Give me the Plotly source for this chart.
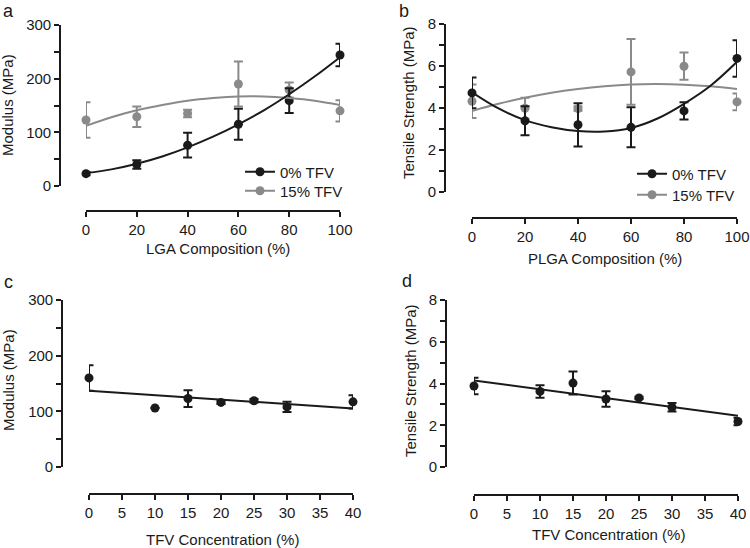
import plotly.graph_objects as go

# ---- data ----
# a / b : composition series (0 % and 15 % TFV)
comp_x = [0, 20, 40, 60, 80, 100]
fit_x = [0, 10, 20, 30, 40, 50, 60, 70, 80, 90, 100]

mod_0 = [23, 40, 76, 115, 159, 244]
mod_0_err = [3, 8, 23, 29, 23, 21]
mod_15 = [123, 129, 135, 190, 179, 140]
mod_15_err = [33, 19, 7, 42, 14, 20]
mod_0_fit = [24, 31, 41.5, 55, 72, 92, 115, 141, 171, 204, 240]
mod_15_fit = [112, 128, 141, 151, 159, 164, 167, 167, 164, 159, 151]

ts_0 = [4.72, 3.39, 3.20, 3.08, 3.86, 6.36]
ts_0_err = [0.73, 0.69, 1.03, 0.95, 0.41, 0.87]
ts_15 = [4.32, 3.99, 3.97, 5.72, 5.99, 4.29]
ts_15_err = [0.80, 0.50, 0.10, 1.57, 0.65, 0.40]
ts_0_fit = [4.75, 3.98, 3.42, 3.08, 2.90, 2.88, 3.05, 3.50, 4.20, 5.06, 6.20]
ts_15_fit = [3.86, 4.20, 4.49, 4.73, 4.91, 5.04, 5.12, 5.14, 5.11, 5.03, 4.90]

# c / d : TFV concentration series
tfv_x = [0, 10, 15, 20, 25, 30, 40]
tfv_fit_x = [0, 40]
tfv_mod = [160, 106, 123, 116, 119, 108, 117]
tfv_mod_err = [23, 0, 15, 3, 3, 9, 12]
tfv_mod_fit = [137, 105]
tfv_ts = [3.88, 3.62, 4.02, 3.26, 3.31, 2.86, 2.18]
tfv_ts_err = [0.40, 0.30, 0.55, 0.37, 0.05, 0.20, 0.18]
tfv_ts_fit = [4.15, 2.46]

BLACK = "#1a1a1a"
GRAY = "#8a8a8a"
FONT = "Liberation Sans"
W, H = 750, 548


def px_x(p):
    return p / W


def px_y(p):
    return 1 - p / H


fig = go.Figure()


def points(x, y, err, color, xa, ya):
    fig.add_trace(go.Scatter(
        x=x, y=y, mode="markers", xaxis=xa, yaxis=ya, showlegend=False,
        marker=dict(color=color, size=9),
        error_y=dict(type="data", array=err, color=color, thickness=2, width=4.5),
        cliponaxis=False,
    ))


def curve(x, y, color, xa, ya, spline=True):
    fig.add_trace(go.Scatter(
        x=x, y=y, mode="lines", xaxis=xa, yaxis=ya, showlegend=False,
        line=dict(color=color, width=2, shape="spline" if spline else "linear"),
        cliponaxis=False,
    ))


def key(name, color, legend):
    # legend-only entry (line + dot), like the original key
    fig.add_trace(go.Scatter(
        x=[None], y=[None], mode="lines+markers", name=name, legend=legend,
        marker=dict(color=color, size=9), line=dict(color=color, width=2),
    ))


# panel a
points(comp_x, mod_15, mod_15_err, GRAY, "x", "y")
points(comp_x, mod_0, mod_0_err, BLACK, "x", "y")
curve(fit_x, mod_15_fit, GRAY, "x", "y")
curve(fit_x, mod_0_fit, BLACK, "x", "y")
key("0% TFV", BLACK, "legend")
key("15% TFV", GRAY, "legend2")

# panel b
points(comp_x, ts_15, ts_15_err, GRAY, "x2", "y2")
points(comp_x, ts_0, ts_0_err, BLACK, "x2", "y2")
curve(fit_x, ts_15_fit, GRAY, "x2", "y2")
curve(fit_x, ts_0_fit, BLACK, "x2", "y2")
key("0% TFV", BLACK, "legend3")
key("15% TFV", GRAY, "legend4")

# panel c
points(tfv_x, tfv_mod, tfv_mod_err, BLACK, "x3", "y3")
curve(tfv_fit_x, tfv_mod_fit, BLACK, "x3", "y3", spline=False)

# panel d
points(tfv_x, tfv_ts, tfv_ts_err, BLACK, "x4", "y4")
curve(tfv_fit_x, tfv_ts_fit, BLACK, "x4", "y4", spline=False)

tickfont = dict(family=FONT, size=15, color=BLACK)


def xaxis(dom, pos, rng, dtick):
    return dict(
        domain=[px_x(dom[0]), px_x(dom[1])], anchor="free", position=px_y(pos),
        range=rng, dtick=dtick, tick0=0, showgrid=False, zeroline=False,
        showline=True, linecolor=BLACK, linewidth=1.6, automargin=False,
        ticks="outside", ticklen=5, tickwidth=1.6, tickcolor=BLACK,
        tickfont=tickfont, fixedrange=True,
    )


def yaxis(dom, pos, rng, dtick):
    return dict(
        domain=[px_y(dom[1]), px_y(dom[0])], anchor="free", position=px_x(pos),
        range=rng, dtick=dtick, tick0=0, showgrid=False, zeroline=False,
        showline=True, linecolor=BLACK, linewidth=1.6, automargin=False,
        ticks="outside", ticklen=5, tickwidth=1.6, tickcolor=BLACK,
        minor=dict(dtick=dtick / 2, ticks="outside", ticklen=5, tickwidth=1.6,
                   tickcolor=BLACK, showgrid=False),
        tickfont=tickfont, fixedrange=True,
    )


def legend_at(x, y):
    return dict(
        x=px_x(x), y=px_y(y), xanchor="left", yanchor="middle",
        font=dict(family=FONT, size=15, color=BLACK), bgcolor="rgba(0,0,0,0)",
        itemwidth=30,
    )


annotations = []


def text(s, x, y, size=15, angle=0):
    annotations.append(dict(
        text=s, x=px_x(x), y=px_y(y), xref="paper", yref="paper",
        showarrow=False, textangle=angle, xanchor="center", yanchor="middle",
        font=dict(family=FONT, size=size, color=BLACK),
    ))


text("a", 8, 11, 18)
text("b", 404, 11, 18)
text("c", 8, 282, 18)
text("d", 407, 281, 18)
text("LGA Composition (%)", 218, 249)
text("PLGA Composition (%)", 605, 258)
text("TFV Concentration (%)", 222, 539)
text("TFV Concentration (%)", 608, 534)
text("Modulus (MPa)", 8, 105, angle=-90)
text("Tensile Strength (MPa)", 408, 103, angle=-90)
text("Modulus (MPa)", 8, 380, angle=-90)
text("Tensile Strength (MPa)", 410, 381, angle=-90)

fig.update_layout(
    width=W, height=H,
    margin=dict(l=0, r=0, t=0, b=0, autoexpand=False),
    paper_bgcolor="white", plot_bgcolor="white",
    font=dict(family=FONT, size=15, color=BLACK),
    xaxis=xaxis((86, 340), 211, [0, 100], 20),
    yaxis=yaxis((25, 186), 60, [0, 300], 100),
    xaxis2=xaxis((472, 737), 218, [0, 100], 20),
    yaxis2=yaxis((24, 192), 445, [0, 8], 2),
    xaxis3=xaxis((89, 353), 494, [0, 40], 5),
    yaxis3=yaxis((300, 467), 62, [0, 300], 100),
    xaxis4=xaxis((474, 738), 495, [0, 40], 5),
    yaxis4=yaxis((300, 467), 446, [0, 8], 2),
    legend=legend_at(240, 172),
    legend2=legend_at(240, 191),
    legend3=legend_at(632, 174),
    legend4=legend_at(632, 195),
    annotations=annotations,
    showlegend=True,
)

# the page body has a default 8px margin; drop it so the figure fills the window
fig.write_html(
    "out.html",
    config={"displayModeBar": False},
    post_script="document.body.style.margin='0px';",
)
